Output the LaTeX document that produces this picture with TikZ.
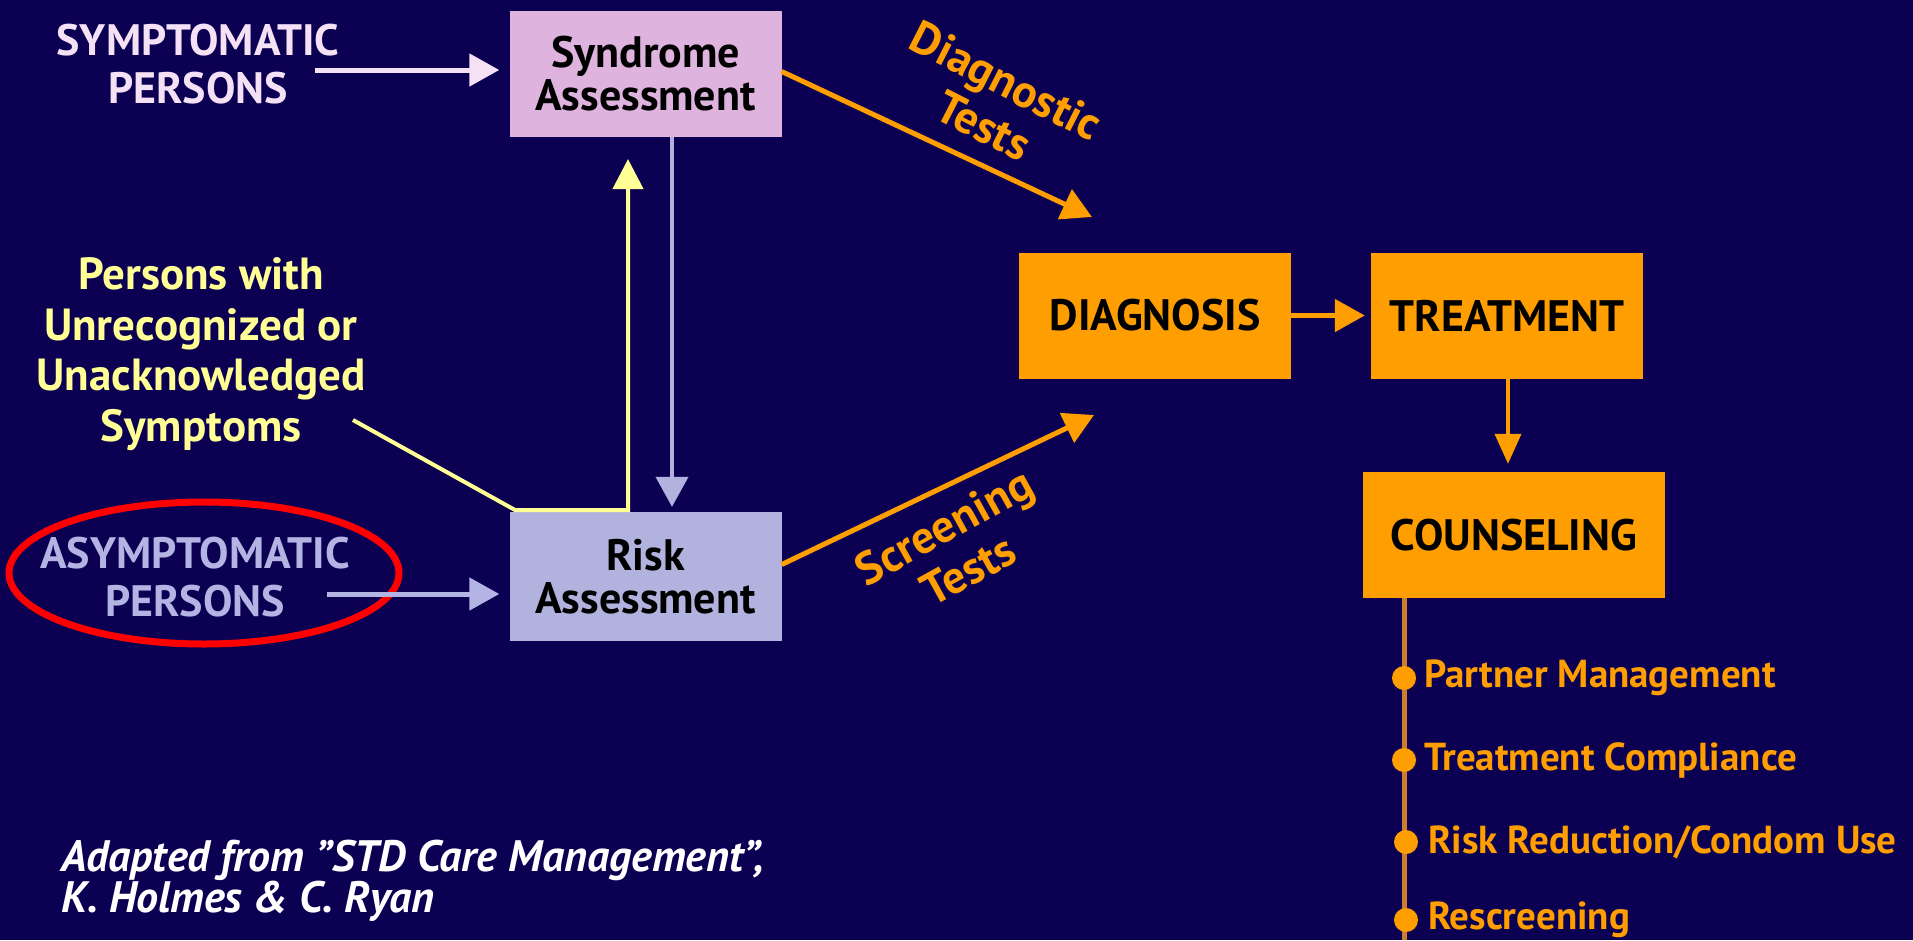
\documentclass[tikz,border=0pt]{standalone}
\usepackage{fontspec}
\setmainfont{PT Sans}
\usetikzlibrary{arrows.meta}
\definecolor{bg}{RGB}{12,0,82}
\definecolor{syndc}{RGB}{222,180,222}
\definecolor{riskc}{RGB}{178,178,222}
\definecolor{orng}{RGB}{255,158,0}
\definecolor{ylw}{RGB}{255,255,150}
\definecolor{pinkw}{RGB}{245,225,245}
\definecolor{lav}{RGB}{180,180,228}
\definecolor{brn}{RGB}{205,125,50}
\begin{document}
\begin{tikzpicture}[x=1pt,y=-1pt,
  box/.style={draw=none, minimum width=272pt, minimum height=126pt, align=center, inner sep=0pt, font=\fontsize{44}{43}\selectfont\bfseries, text=black},
  lbl/.style={align=center, inner sep=0pt, font=\fontsize{44}{48}\selectfont\bfseries},
  arr/.style={-{Triangle[length=30pt,width=32pt]}, line width=5pt},
  bul/.style={anchor=west, inner sep=0pt, text=orng, font=\fontsize{39}{40}\selectfont\bfseries},
  dot/.style={circle, fill=orng, inner sep=0pt, minimum size=24pt}
]
\fill[bg] (0,0) rectangle (1913,940);
\useasboundingbox (0,0) rectangle (1913,940);

% boxes
\node[box, fill=syndc] (synd) at (645.5,73.5) {Syndrome\\Assessment};
\node[box, fill=riskc, minimum height=129pt] (risk) at (645.5,576.5) {Risk\\Assessment};
\node[box, fill=orng] (diag) at (1155,315.5) {DIAGNOSIS};
\node[box, fill=orng] (treat) at (1507,315.5) {TREATMENT};
\node[box, fill=orng, minimum width=302pt] (couns) at (1514,535) {COUNSELING};

% left labels
\node[lbl, text=pinkw] (symp) at (198,64) {SYMPTOMATIC\\PERSONS};
\node[lbl, text=ylw, font=\fontsize{45}{50.5}\selectfont\bfseries] (unrec) at (201,354) {Persons with\\Unrecognized or\\Unacknowledged\\Symptoms};
\node[lbl, text=lav] (asymp) at (195,577) {ASYMPTOMATIC\\PERSONS};

% red ellipse
\draw[red, line width=7pt] (204,573) ellipse [x radius=195, y radius=71];

% connectors
\coordinate (s1) at (315,70);
\draw[arr, draw=pinkw, fill=pinkw, shorten >=10pt] (s1) -- (s1 -| synd.west);
\coordinate (a1) at (327,594);
\draw[arr, draw=lav, fill=lav, shorten >=10pt] (a1) -- (a1 -| risk.west);
\draw[arr, draw=riskc, line width=4pt, shorten >=5pt] ([xshift=26.5pt]synd.south) -- ([xshift=26.5pt]risk.north);
\coordinate (y0) at (353,420);
\coordinate (y1) at (515,510);
\coordinate (y2) at (628,510);
\coordinate (y3) at (628,159);
\draw[ylw, line width=4pt, -{Triangle[length=30pt,width=30pt]}] (y0) -- (y1) -- (y2) -- (y3);

\coordinate (dtip) at (1092,217);
\draw[arr, draw=orng, fill=orng] ([yshift=2pt]synd.east) -- (dtip);
\coordinate (stip) at (1094,415);
\draw[arr, draw=orng, fill=orng] ([yshift=12pt]risk.east) -- (stip);
\draw[arr, draw=orng, fill=orng, shorten >=6pt] (diag.east) -- (treat.west);
\draw[orng, line width=4pt, -{Triangle[length=30pt,width=26pt]}, shorten >=8pt] ([xshift=1pt]treat.south) -- ([xshift=1pt]treat.south |- couns.north);

% rotated labels
\node[lbl, text=orng, rotate=-27, font=\fontsize{46}{50}\selectfont\bfseries] (dlab) at (995,103) {Diagnostic\\Tests};
\node[lbl, text=orng, rotate=29, font=\fontsize{46}{50}\selectfont\bfseries] (slab) at (956,548) {Screening\\Tests};

% counseling list
\coordinate (cl) at (1404,940);
\draw[brn, line width=5pt] (couns.south -| cl) -- (cl);
\node[dot] (d1) at (1404,678) {};
\node[dot] (d2) at (1404,760) {};
\node[dot] (d3) at (1406,842) {};
\node[dot] (d4) at (1406,920) {};
\node[bul] (b1) at (1424,678) {Partner Management};
\node[bul] (b2) at (1424,760) {Treatment Compliance};
\node[bul] (b3) at (1428,842) {Risk Reduction/Condom Use};
\node[bul] (b4) at (1428,920) {Rescreening};

% citation
\node[anchor=north west, align=left, inner sep=0pt, text=white, font=\fontsize{44}{41}\selectfont\bfseries\itshape] (cite) at (61,840) {Adapted from \symbol{34}STD Care Management\symbol{34},\\K. Holmes \& C. Ryan};
\end{tikzpicture}
\end{document}
